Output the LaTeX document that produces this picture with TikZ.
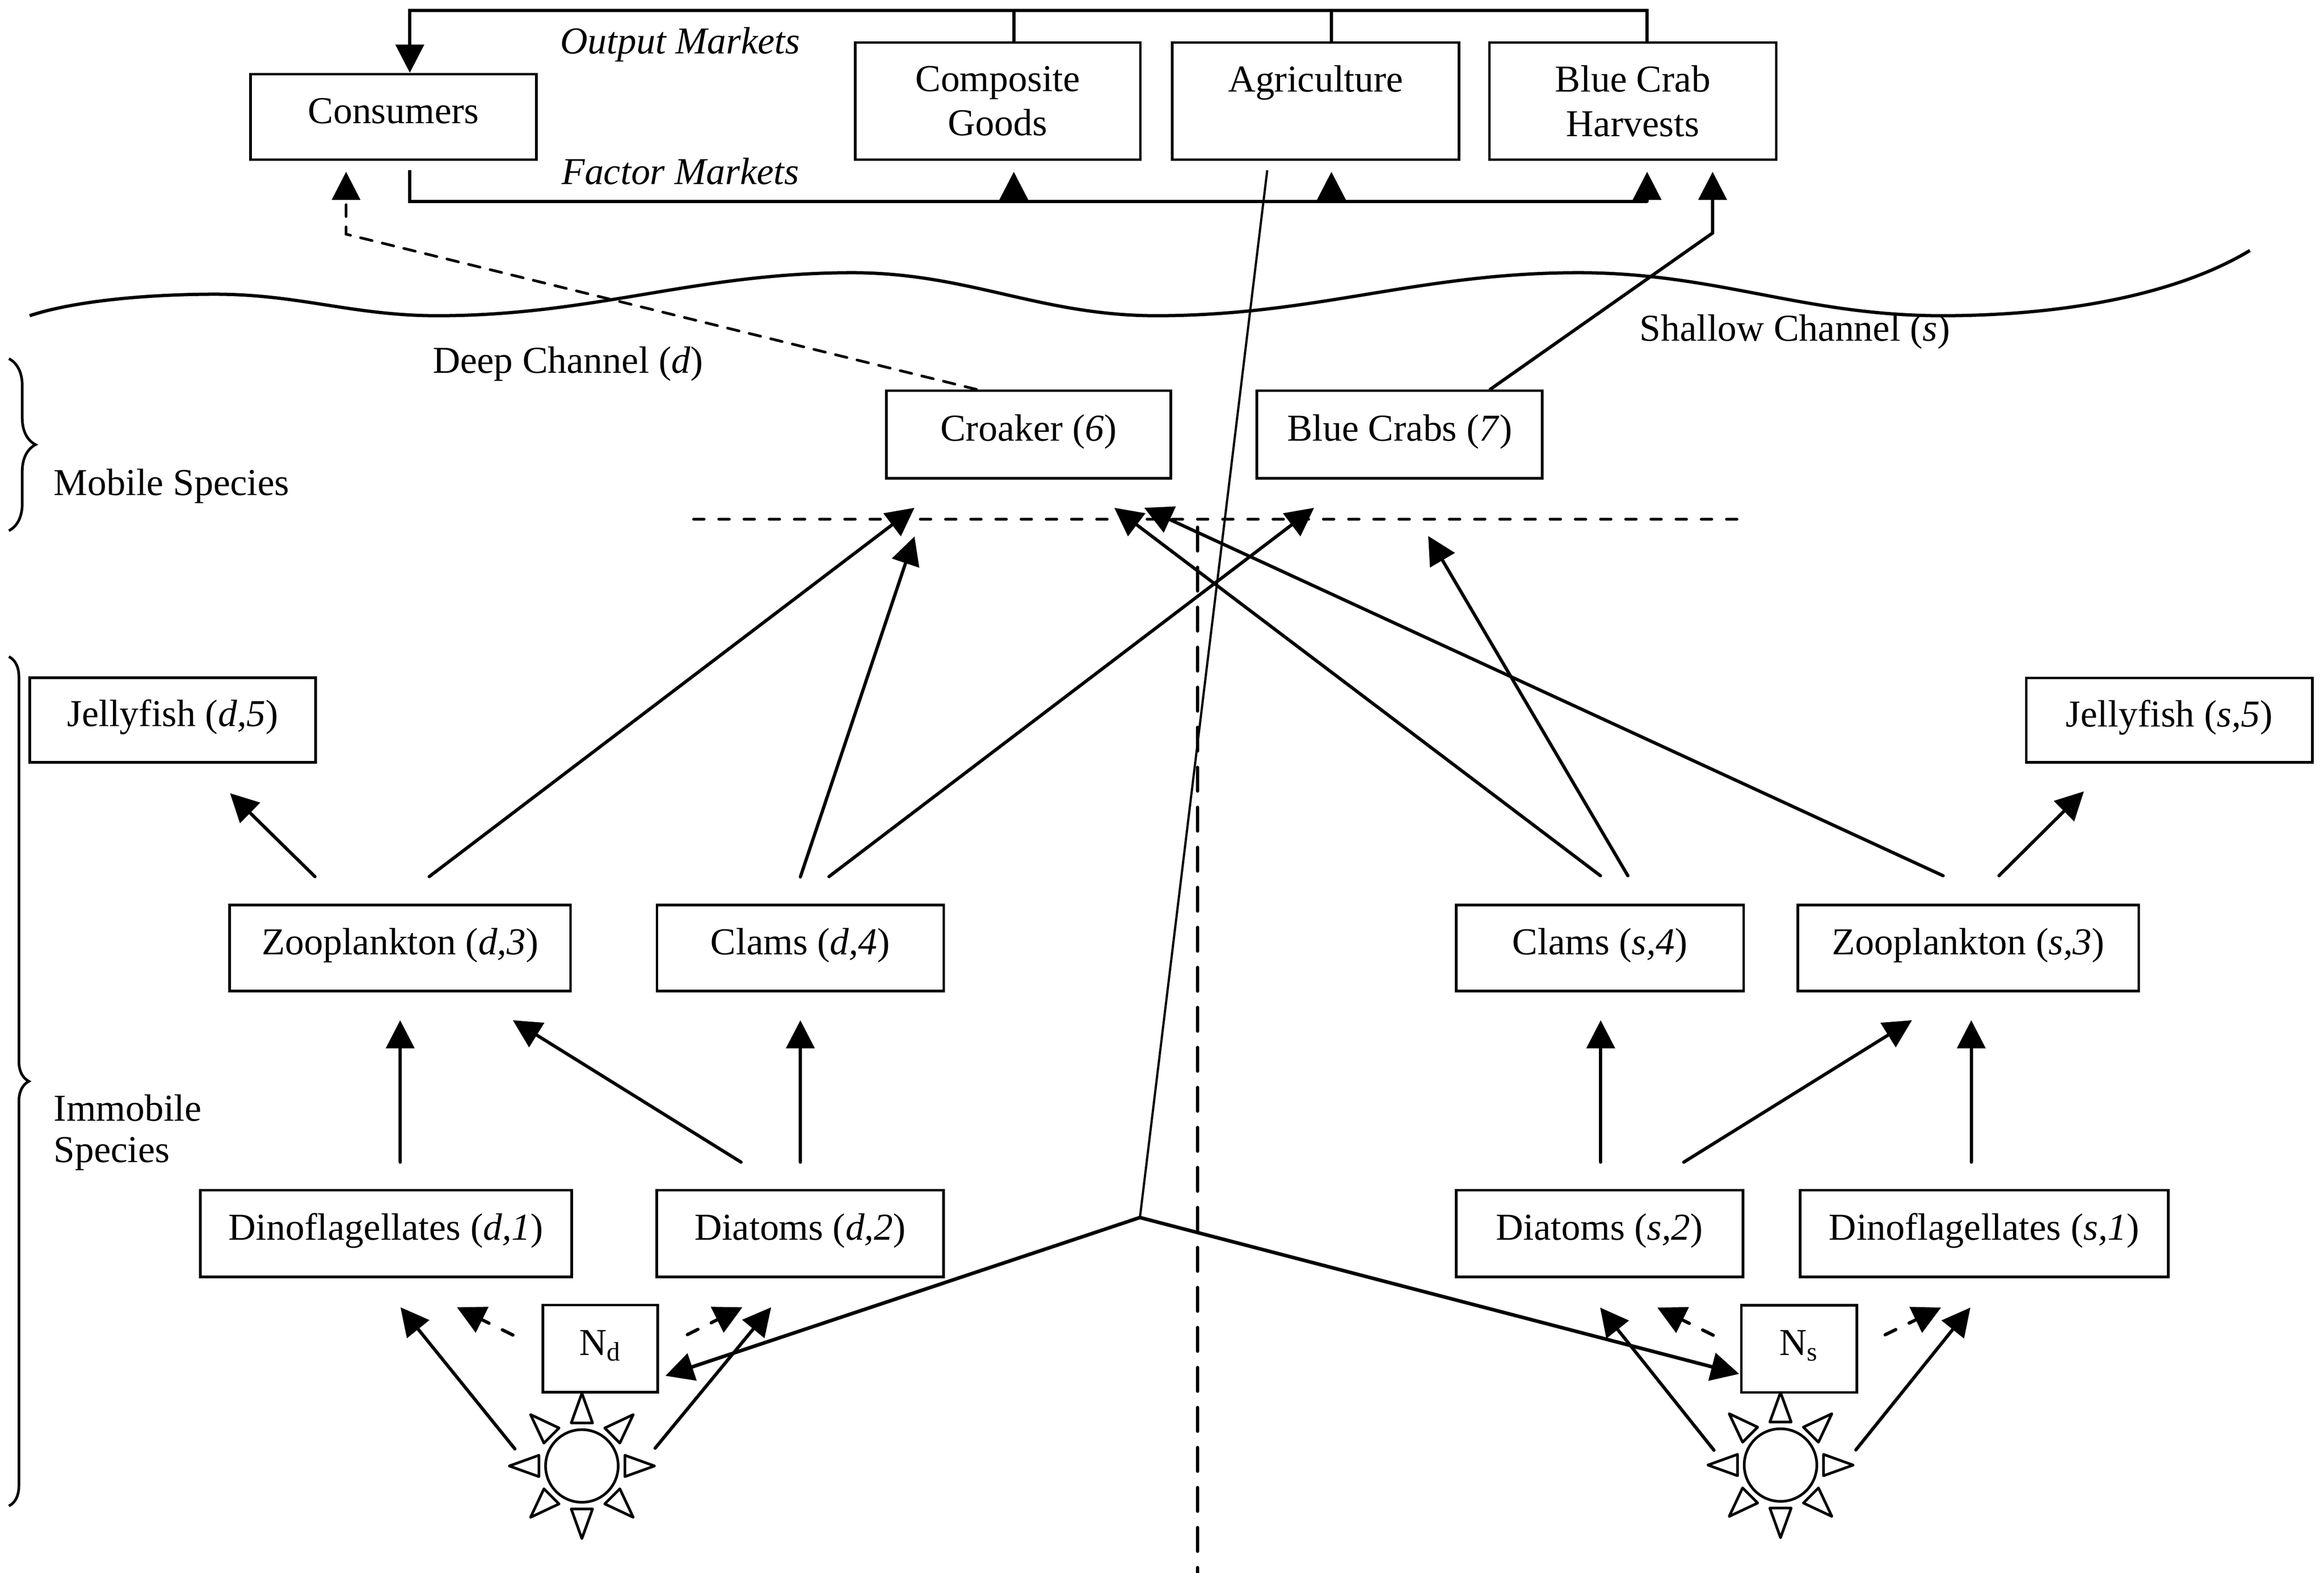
\documentclass[tikz,border=0pt]{standalone}
\usepackage{fontspec}
\setmainfont{Liberation Serif}
\usetikzlibrary{arrows.meta,calc,decorations.pathreplacing}
\begin{document}
\begin{tikzpicture}[x=0.02cm,y=-0.02cm,
  font=\fontsize{14.6}{17.07}\selectfont,
  bx/.style={draw,line width=0.036cm,inner sep=0pt,minimum height=1.16cm,text height=0.7em,text depth=0.2em},
  mbx/.style={draw,line width=0.036cm,inner sep=0pt,minimum height=1.58cm,align=center},
  arr/.style={line width=0.044cm,line cap=round,-{Triangle[length=0.38cm,width=0.38cm]}},
  dsh/.style={arr,dash pattern=on 0.16cm off 0.2cm},
  conn/.style={line width=0.044cm},
  ray/.style={line width=0.036cm,line join=round,fill=white},
  sun/.style={draw,circle,line width=0.036cm,minimum size=0.98cm,inner sep=0pt},
  lbl/.style={inner sep=0pt},
]
\useasboundingbox (0,0) rectangle (1568,1061.2);

% ---------- top: economy ----------
\node[bx,minimum width=3.86cm,minimum height=1.154cm] (cons) at (265.5,78.85) {Consumers};
\node[mbx,minimum width=3.85cm] (comp) at (673.2,68.2) {Composite\\Goods};
\node[mbx,minimum width=3.87cm] (agri) at (887.65,68.2) {Agriculture\\\phantom{Goods}};
\node[mbx,minimum width=3.87cm] (bch) at (1101.65,68.2) {Blue Crab\\Harvests};

\node[lbl] (om) at (459,30) {\textit{Output Markets}};
\node[lbl] (fm) at (459,115.5) {\textit{Factor Markets}};

\coordinate (otop) at (276.5,7.2);
\draw[arr] ($(bch.north)+(9.65,0)$) |- (otop) -- ($(cons.north)+(11,0)$);
\draw[conn] ($(comp.north)+(10.8,0)$) -- ++(0,-21.5);
\draw[conn] ($(agri.north)+(10.65,0)$) -- ++(0,-21.5);

\coordinate (fl) at (276.5,135.8);
\coordinate (fr) at (1111.3,135.8);
\coordinate (fa1) at (684,135.8);
\coordinate (fa2) at (898.3,135.8);
\draw[conn] ($(cons.south)+(11,6.1)$) -- (fl) -- (fr);
\draw[arr] (fr) -- ($(bch.south)+(9.65,7.3)$);
\draw[arr] (fa1) -- ($(comp.south)+(10.8,7.3)$);
\draw[arr] (fa2) -- ($(agri.south)+(10.65,7.3)$);

% ---------- water surface ----------
\draw[line width=0.044cm] (20,213) .. controls (50,203) and (100,198.5) .. (145,198.5)
  .. controls (202,198.5) and (238,213) .. (295,213)
  .. controls (401,213) and (469,184) .. (575,184)
  .. controls (653,184) and (702,213) .. (780,213)
  .. controls (888,213) and (957,184) .. (1065,184)
  .. controls (1158,184) and (1217,213) .. (1310,213)
  .. controls (1395,213) and (1470,198) .. (1518,169);

\node[lbl] (deep) at (383.2,245.4) {Deep Channel (\textit{d})};
\node[lbl] (shal) at (1211,224) {Shallow Channel (\textit{s})};

% ---------- braces ----------
\draw[line width=0.036cm,decorate,decoration={brace,amplitude=0.36cm}] (6,242) -- (6,358);
\draw[line width=0.036cm,decorate,decoration={brace,amplitude=0.27cm}] (6,443) -- (6,1016);
\node[lbl,anchor=west] (mob) at (36,328) {Mobile Species};
\node[lbl,anchor=west,align=left,font=\fontsize{14.6}{15.9}\selectfont] (imm) at (36,764) {Immobile\\Species};

% ---------- mobile species ----------
\node[bx,minimum width=3.84cm,minimum height=1.184cm] (crk) at (694,293.2) {Croaker (\textit{6})};
\node[bx,minimum width=3.85cm,minimum height=1.184cm] (bcr) at (944.3,293.2) {Blue Crabs (\textit{7})};

% ---------- immobile species ----------
\node[bx,minimum width=3.86cm,minimum height=1.14cm] (jd) at (116.5,485.75) {Jellyfish (\textit{d,5})};
\node[bx,minimum width=3.86cm,minimum height=1.14cm] (js) at (1463.6,485.9) {Jellyfish (\textit{s,5})};
\node[bx,minimum width=4.6cm] (zd) at (270,639.5) {Zooplankton (\textit{d,3})};
\node[bx,minimum width=3.87cm] (cd) at (540,639.5) {Clams (\textit{d,4})};
\node[bx,minimum width=3.88cm] (cs) at (1079.5,639.5) {Clams (\textit{s,4})};
\node[bx,minimum width=4.6cm] (zs) at (1328,639.5) {Zooplankton (\textit{s,3})};
\node[bx,minimum width=5.01cm,minimum height=1.17cm] (dd) at (260.4,832.2) {Dinoflagellates (\textit{d,1})};
\node[bx,minimum width=3.87cm,minimum height=1.17cm] (td) at (539.8,832.2) {Diatoms (\textit{d,2})};
\node[bx,minimum width=3.87cm,minimum height=1.17cm] (ts) at (1079.2,832.2) {Diatoms (\textit{s,2})};
\node[bx,minimum width=4.97cm,minimum height=1.17cm] (ds) at (1338.7,832.2) {Dinoflagellates (\textit{s,1})};
\node[bx,minimum width=1.55cm,minimum height=1.176cm] (nd) at (405,909.8) {N\textsubscript{d}};
\node[bx,minimum width=1.56cm,minimum height=1.176cm] (ns) at (1213.9,910) {N\textsubscript{s}};

% ---------- suns ----------
\node[sun] (sund) at (392.6,989) {};
\node[sun] (suns) at (1201.3,988.4) {};
\foreach \sn in {sund,suns}{
  \foreach \a in {0,45,...,315}{
    \draw[ray] ($(\sn)+(\a:49)$) -- ($(\sn)+(\a:29)+(\a+90:7.2)$) -- ($(\sn)+(\a:29)+(\a-90:7.2)$) -- cycle;
  }
}

% ---------- dashed separators ----------
\coordinate (hl) at (468,350.3);
\coordinate (hr) at (1173.6,350.3);
\draw[line width=0.04cm,line cap=round,dash pattern=on 0.14cm off 0.2cm] (hl) -- (hr);
\coordinate (vt) at (808,355.7);
\coordinate (vb) at (808,1061.2);
\draw[line width=0.044cm,line cap=round,dash pattern=on 0.32cm off 0.22cm] (vt) -- (vb);

% ---------- food web ----------
\draw[arr] ($(zd.north)+(-57.5,-18.2)$) -- ($(jd.south)+(38.7,20)$);
\draw[arr] ($(zd.north)+(19.6,-18.2)$) -- ($(crk.south)+(-77,18.9)$);
\draw[arr] ($(cd.north)+(0,-18)$) -- ($(crk.south)+(-77,38.2)$);
\draw[arr] ($(cd.north)+(19.3,-18.2)$) -- ($(bcr.south)+(-57.7,18.9)$);
\draw[arr] ($(cs.north)+(0.3,-18.8)$) -- ($(crk.south)+(57.8,18.9)$);
\draw[arr] ($(cs.north)+(18.8,-18.8)$) -- ($(bcr.south)+(19.3,37.9)$);
\draw[arr] ($(zs.north)+(-17,-18.8)$) -- ($(crk.south)+(78,18.9)$);
\draw[arr] ($(zs.north)+(20.7,-18.8)$) -- ($(js.south)+(-57.6,18.6)$);

\draw[arr] ($(dd.north)+(9.6,-18)$) -- ($(zd.south)+(0,18.9)$);
\draw[arr] ($(td.north)+(-39.8,-18)$) -- ($(zd.south)+(76,18.9)$);
\draw[arr] ($(td.north)+(0.2,-18)$) -- ($(cd.south)+(0,18.9)$);
\draw[arr] ($(ts.north)+(0.8,-18)$) -- ($(cs.south)+(0.5,18.9)$);
\draw[arr] ($(ts.north)+(56.8,-18)$) -- ($(zs.south)+(-38,18.9)$);
\draw[arr] ($(ds.north)+(-8.7,-18)$) -- ($(zs.south)+(2,18.9)$);

\draw[arr] ($(sund)+(-45.2,-11.5)$) -- ($(dd.south)+(9.8,19.6)$);
\draw[arr] ($(sund)+(49.4,-12)$) -- ($(td.south)+(-19.5,19.6)$);
\draw[dsh] ($(nd.west)+(-19.3,-9.1)$) -- ($(dd.south)+(47.9,19.6)$);
\draw[dsh] ($(nd.east)+(19.1,-9.4)$) -- ($(td.south)+(-38.9,19.6)$);
\draw[arr] ($(suns)+(-44.9,-10)$) -- ($(ts.south)+(0.4,19.8)$);
\draw[arr] ($(suns)+(50.8,-10.2)$) -- ($(ds.south)+(-9.3,19.8)$);
\draw[dsh] ($(ns.west)+(-18.1,-9.2)$) -- ($(ts.south)+(39,19.8)$);
\draw[dsh] ($(ns.east)+(18.1,-9.5)$) -- ($(ds.south)+(-29.1,19.8)$);

% ---------- links to economy ----------
\coordinate (J) at (769.1,821.4);
\draw[line width=0.03cm] ($(agri.south)+(-32.65,6.3)$) -- (J);
\draw[arr,line width=0.048cm] (J) -- ($(nd.east)+(4.3,18.4)$);
\draw[arr,line width=0.048cm] (J) -- ($(ns.west)+(-0.6,16.9)$);

\coordinate (bend) at (1155.5,157.2);
\draw[arr] ($(bcr.north)+(61.1,0)$) -- (bend) -- ($(bch.south)+(53.85,7.3)$);

\coordinate (cbend) at (233.5,158);
\draw[arr,line width=0.036cm,dash pattern=on 0.16cm off 0.14cm] ($(crk.north)+(-35.2,0)$) -- (cbend) -- ($(cons.south)+(-32,7.3)$);

\end{tikzpicture}
\end{document}
